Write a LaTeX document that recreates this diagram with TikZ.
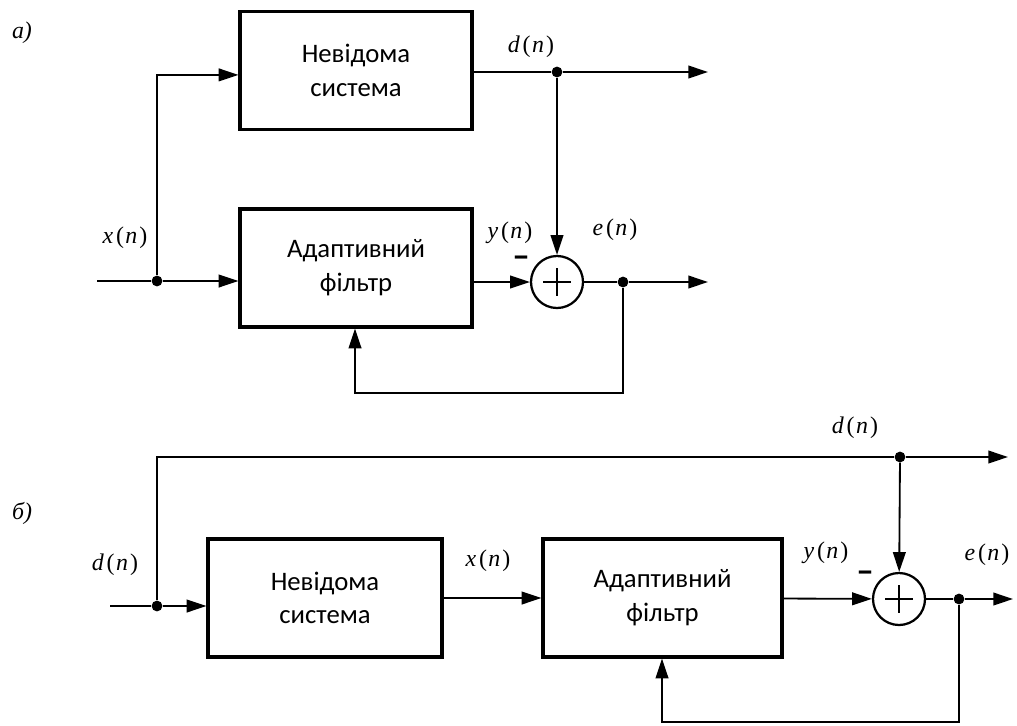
\documentclass[tikz,border=0pt]{standalone}
\usepackage{fontspec}
\setmainfont{Liberation Serif}
\newfontfamily\boxfont{Carlito}
\usetikzlibrary{arrows.meta}

\newcommand\sgl[1]{\textit{#1}\kern2pt(\kern1pt\textit{n}\kern1.5pt)}

\tikzset{
 blok/.style={draw, line width=2.2pt, minimum height=2.95cm, align=center, inner sep=0pt,
   font=\boxfont\fontsize{19}{24}\selectfont},
 sumator/.style={draw, circle, line width=1.6pt, minimum size=1.3cm, inner sep=0pt,
   path picture={\draw[line width=1.6pt] (path picture bounding box.center) ++(-0.34cm,0) -- ++(0.68cm,0)
     (path picture bounding box.center) ++(0,-0.34cm) -- ++(0,0.68cm);}},
 sig/.style={font=\fontsize{17}{19}\selectfont, inner sep=0pt},
 minus/.style={font=\boxfont\bfseries\fontsize{25}{25}\selectfont, inner sep=0pt},
 line/.style={line width=1.3pt},
 arr/.style={line, -{Triangle[length=14pt,width=9pt]}},
 dot/.style={circle, fill, inner sep=0pt, minimum size=0.27cm},
}

\begin{document}
\begin{tikzpicture}[x=0.025cm, y=-0.025cm]
\useasboundingbox (0,0) rectangle (1017,725);

% a)
\node[sig] (lbla) at (22,33) {\textit{a)}};
\node[blok, minimum width=5.8cm] (sys) at (356,70.5) {Невідома\\система};
\node[blok, minimum width=5.8cm] (adf) at (356,268) {Адаптивний\\фільтр};
\node[sumator] (sum) at (557,282) {};
\coordinate (in) at (97,281);
\node[dot] (ja) at (157,281) {};
\node[dot] (jd) at (557,72) {};
\node[dot] (je) at (623,282) {};
\coordinate (outd) at (708,72);
\coordinate (oute) at (708,282);
\coordinate (fb) at (355,393);

\draw[line] (in) -- (ja);
\draw[arr] (ja) -- (ja -| adf.west);
\draw[arr] (ja) |- ([yshift=-0.11cm]sys.west);
\draw[line] (jd -| sys.east) -- (jd);
\draw[arr] (jd) -- (outd);
\draw[arr] (jd) -- (sum);
\draw[arr] (sum.west -| adf.east) -- (sum);
\draw[line] (sum) -- (je);
\draw[arr] (je) -- (oute);
\draw[arr] (je) |- (fb) -- (fb |- adf.south);

\node[sig] (xa) at (125,238) {\sgl{x}};
\node[sig] (da) at (531,47) {\sgl{d}};
\node[sig] (ya) at (510,233) {\sgl{y}};
\node[sig] (ea) at (615,230) {\sgl{e}};
\node[minus] (ma) at (521,267) {\smash{–}};

% b)
\node[sig] (lblb) at (22,513) {\textit{б)}};
\node[blok, minimum width=5.85cm] (sys2) at (325,598) {Невідома\\система};
\node[blok, minimum width=5.975cm] (adf2) at (662.5,598) {Адаптивний\\фільтр};
\node[sumator] (sum2) at (899,599) {};
\coordinate (in2) at (110,606);
\node[dot] (jb) at (157,606) {};
\node[dot] (jd2) at (900,457) {};
\node[dot] (je2) at (959,599) {};
\coordinate (outd2) at (1008,457);
\coordinate (oute2) at (1013,599);
\coordinate (fb2) at (662,722);

\draw[line] (in2) -- (jb);
\draw[arr] (jb) -- (jb -| sys2.west);
\draw[line] (jb) |- (jd2);
\draw[arr] (jd2) -- (outd2);
\draw[arr] (jd2) -- (sum2);
\draw[arr] (sys2) -- (adf2);
\draw[arr] (adf2) -- (sum2);
\draw[line] (sum2) -- (je2);
\draw[arr] (je2) -- (oute2);
\draw[arr] (je2) |- (fb2) -- (fb2 |- adf2.south);

\node[sig] (db) at (115,565) {\sgl{d}};
\node[sig] (dt) at (855,428) {\sgl{d}};
\node[sig] (xb) at (488,561) {\sgl{x}};
\node[sig] (yb) at (826,553) {\sgl{y}};
\node[sig] (eb) at (987,555) {\sgl{e}};
\node[minus] (mb) at (865,582) {\smash{–}};
\end{tikzpicture}
\end{document}
